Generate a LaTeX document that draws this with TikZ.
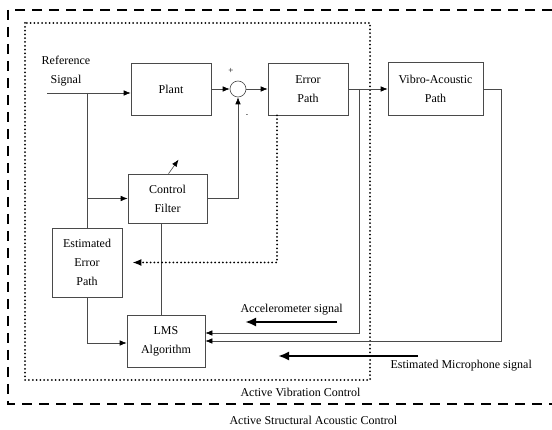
\documentclass[tikz,border=0pt]{standalone}
\usepackage{fontspec}
\setmainfont{Liberation Serif}
\usetikzlibrary{arrows.meta}
\definecolor{boxgrey}{HTML}{4A4A4A}

\begin{document}
\begin{tikzpicture}[x=1pt,y=-1pt,font=\fontsize{12}{19}\selectfont,
  blk/.style={draw=boxgrey,line width=0.6pt,inner sep=0pt,align=center},
  wire/.style={draw=boxgrey,line width=0.6pt},
  sig/.style={wire,-{Latex[length=7pt,width=5.5pt,color=black]}},
  dots/.style={line width=2pt,line cap=round,dash pattern=on 0pt off 3.8pt},
  bigarrow/.style={line width=2.6pt,-{Latex[length=11pt,width=9pt]}}]
  \useasboundingbox (0,0) rectangle (552,430);
  % frames
  \draw[line width=1.6pt,dash pattern=on 10pt off 7pt] (552,10) -- (8,10) -- (8,404) -- (552,404);
  \draw[dots] (25,23) rectangle (370,380);
  \node[anchor=west] (avc) at (237,392) {Active Vibration Control};
  \node[anchor=west] (asac) at (226,420) {Active Structural Acoustic Control};
  % blocks
  \node[align=center] (ref) at (66,71) {Reference\\Signal};
  \foreach \n/\x/\y/\w/\h/\t in {plant/171/89/80/52/Plant,
      err/308/89/80/52/{Error\\Path},
      vib/435.5/89/95/53/{Vibro-Acoustic\\Path},
      ctrl/167.5/198.5/79/49/{Control\\Filter},
      est/87/262.5/70/69/{Estimated\\Error\\Path},
      lms/166/341/78/52/{LMS\\Algorithm}}
    \node[blk,minimum width=\w pt,minimum height=\h pt] (\n) at (\x,\y) {\t};
  \node[wire,circle,minimum size=16pt,inner sep=0pt] (sum) at (238,89) {};
  \node[font=\small] (plus) at (231,71) {+};
  \node[font=\scriptsize] (minus) at (247,116) {-};
  % signals
  \coordinate (refin) at (47,93);
  \coordinate (split) at (87,93);
  \coordinate (tap) at (359,89);
  \draw[sig] (refin) -- (refin -| plant.west);
  \draw[wire] (split) -- (est.north);
  \draw[sig] (split |- ctrl.west) -- (ctrl.west);
  \draw[sig] (plant.east) -- (sum.west);
  \draw[sig] (sum.east) -- (err.west);
  \draw[sig] (ctrl.east) -| (sum.south);
  \draw[sig] (err.east) -- (vib.west);
  \draw[sig] (tap) |- ([yshift=8pt]lms.east);
  \draw[sig] (vib.east) -- ++(18,0) |- (lms.east);
  \draw[sig] (est.south) |- ([yshift=-2pt]lms.west);
  \draw[wire] ([xshift=-5pt]lms.north) -- ([xshift=-5pt]lms.north |- ctrl.south);
  \draw[sig] ([xshift=1pt]ctrl.north) -- ++(10,-14);
  \draw[dots,-{Latex[length=9pt,width=7pt]}] ([xshift=-31pt]err.south) |- ([xshift=10pt]est.east);
  % sensor signals
  \node[anchor=west] (acc) at (237,310) {Accelerometer signal};
  \node[anchor=west] (mic) at (387,366) {Estimated Microphone signal};
  \coordinate (accA) at (337,322);
  \coordinate (accB) at (245,322);
  \coordinate (micA) at (418,356);
  \coordinate (micB) at (278,356);
  \draw[bigarrow] (accA) -- (accB);
  \draw[bigarrow] (micA) -- (micB);
\end{tikzpicture}
\end{document}
